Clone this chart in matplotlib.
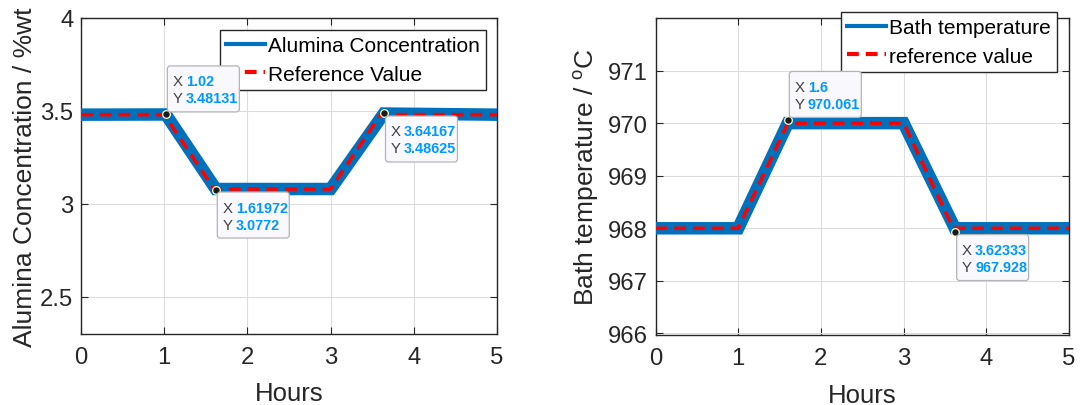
import matplotlib
matplotlib.use("Agg")
import matplotlib.pyplot as plt
from matplotlib.patches import FancyBboxPatch
from matplotlib.transforms import ScaledTranslation

plt.rcParams['font.family'] = ['Liberation Sans', 'DejaVu Sans']
plt.rcParams['mathtext.fontset'] = 'custom'
plt.rcParams['mathtext.rm'] = 'Liberation Sans'
plt.rcParams['lines.scale_dashes'] = False

# ---------------- data ----------------
hours_ticks = [0, 1, 2, 3, 4, 5]

# Left: alumina concentration
al_meas_x = [0, 1.02, 1.62, 3.0, 3.64, 5]
al_meas_y = [3.48, 3.481, 3.08, 3.08, 3.486, 3.48]
al_ref_x = [0, 1.0, 1.6, 3.0, 3.6, 5]
al_ref_y = [3.48, 3.48, 3.08, 3.08, 3.48, 3.48]
al_yticks = [2.5, 3, 3.5, 4]
al_tip_x = [1.02, 1.61972, 3.64167]
al_tip_y = [3.48131, 3.0772, 3.48625]
al_tip_lbl_x = ['1.02', '1.61972', '3.64167']
al_tip_lbl_y = ['3.48131', '3.0772', '3.48625']
al_tip_side = ['above', 'below', 'below']

# Right: bath temperature
bt_meas_x = [0, 1.0, 1.6, 3.0, 3.62, 5]
bt_meas_y = [968.0, 968.0, 970.0, 970.0, 968.0, 968.0]
bt_ref_x = [0, 1.0, 1.6, 3.0, 3.6, 5]
bt_ref_y = [968, 968, 970, 970, 968, 968]
bt_yticks = [966, 967, 968, 969, 970, 971]
bt_tip_x = [1.6, 3.62333]
bt_tip_y = [970.061, 967.928]
bt_tip_lbl_x = ['1.6', '3.62333']
bt_tip_lbl_y = ['970.061', '967.928']
bt_tip_side = ['above', 'below']

BLUE = '#0072BD'
RED = '#FF0000'
DARK = '#262626'
TIPBLUE = '#0099FF'

fig = plt.figure(figsize=(10.83, 4.06), dpi=100)
W, H = 1083.0, 406.0

def axes_px(x0, x1, ytop, ybot):
    return fig.add_axes([x0 / W, 1 - ybot / H, (x1 - x0) / W, (ybot - ytop) / H])

ax1 = axes_px(81, 497, 19, 335)
ax2 = axes_px(655.5, 1069, 19, 336)

def style(ax):
    for s in ax.spines.values():
        s.set_color(DARK)
        s.set_linewidth(1.0)
    ax.tick_params(direction='in', length=5, width=0.8, colors=DARK,
                   top=True, right=True, labelsize=17.2)
    ax.tick_params(axis='x', pad=8.5)
    ax.tick_params(axis='y', pad=5.5)
    ax.grid(True, color='#DDDDDD', linewidth=0.8)
    ax.set_axisbelow(True)

def datatips(ax, xs, ys, lx, ly, sides):
    ax.plot(xs, ys, 'o', ms=5.5, mfc='#1a1a1a', mec='#FFFFCC', mew=0.9,
            zorder=8, clip_on=False)
    for x, y, tx, ty, side in zip(xs, ys, lx, ly, sides):
        tr = fig.dpi_scale_trans + ScaledTranslation(x, y, ax.transData)
        if side == 'above':
            b0 = 0.025
        else:
            b0 = -0.025 - 0.46
        box = FancyBboxPatch((0.015, b0), 0.72, 0.46,
                             boxstyle='round,pad=0,rounding_size=0.03',
                             transform=tr, facecolor='#F8F8FD',
                             edgecolor='#B4B4B4', linewidth=0.9,
                             zorder=9, clip_on=False)
        ax.add_patch(box)
        l1 = b0 + 0.305
        l2 = b0 + 0.135
        for yy, lab, val in ((l1, 'X', tx), (l2, 'Y', ty)):
            ax.text(0.07, yy, lab, transform=tr, fontsize=10.8, color='#404040',
                    va='center', ha='left', zorder=10, clip_on=False)
            ax.text(0.2, yy, val, transform=tr, fontsize=10.4, color=TIPBLUE,
                    fontweight='bold', va='center', ha='left', zorder=10,
                    clip_on=False)

LEG_KW = dict(loc='upper right', bbox_transform=fig.transFigure,
              borderaxespad=0, fontsize=15, fancybox=False, framealpha=1,
              edgecolor=DARK, borderpad=0.3, handlelength=1.85,
              handletextpad=0.15, labelspacing=0.45)

# ---------- left ----------
style(ax1)
ax1.plot(al_meas_x, al_meas_y, color=BLUE, lw=9, solid_joinstyle='miter',
         label='Alumina Concentration', zorder=3)
ax1.plot(al_ref_x, al_ref_y, color=RED, lw=2.6, linestyle=(0, (8.5, 5)),
         label='Reference Value', zorder=4)
ax1.set_xlim(0, 5)
ax1.set_ylim(2.3, 4.0)
ax1.set_xticks(hours_ticks)
ax1.set_yticks(al_yticks)
ax1.set_yticklabels(['2.5', '3', '3.5', '4'])
ax1.set_xlabel('Hours', fontsize=18.5, color=DARK)
ax1.set_ylabel('Alumina Concentration / %wt', fontsize=19, color=DARK)
ax1.xaxis.set_label_coords(0.5, -0.15)
ax1.yaxis.set_label_coords((37 - 81) / 416, 0.5)

leg1 = ax1.legend(bbox_to_anchor=(486 / W, 1 - 31 / H), **LEG_KW)
leg1.get_frame().set_linewidth(1.0)
for ln in leg1.get_lines():
    ln.set_linewidth(3)
datatips(ax1, al_tip_x, al_tip_y, al_tip_lbl_x, al_tip_lbl_y, al_tip_side)

# ---------- right ----------
style(ax2)
ax2.plot(bt_meas_x, bt_meas_y, color=BLUE, lw=9, solid_joinstyle='miter',
         label='Bath temperature', zorder=3)
ax2.plot(bt_ref_x, bt_ref_y, color=RED, lw=2.6, linestyle=(0, (8.5, 5)),
         label='reference value', zorder=4)
ax2.set_xlim(0, 5)
ax2.set_ylim(965.97, 972)
ax2.set_xticks(hours_ticks)
ax2.set_yticks(bt_yticks)
ax2.set_xlabel('Hours', fontsize=18.5, color=DARK)
ax2.set_ylabel(r'Bath temperature / $^{\mathrm{o}}$C', fontsize=19, color=DARK)
ax2.xaxis.set_label_coords(0.5, -0.15)
ax2.yaxis.set_label_coords((601 - 655.5) / 413.5, 0.5)
leg2 = ax2.legend(bbox_to_anchor=(1057 / W, 1 - 13 / H), **LEG_KW)
leg2.get_frame().set_linewidth(1.0)
for ln in leg2.get_lines():
    ln.set_linewidth(3)
datatips(ax2, bt_tip_x, bt_tip_y, bt_tip_lbl_x, bt_tip_lbl_y, bt_tip_side)

fig.savefig('out.png', dpi=100)
